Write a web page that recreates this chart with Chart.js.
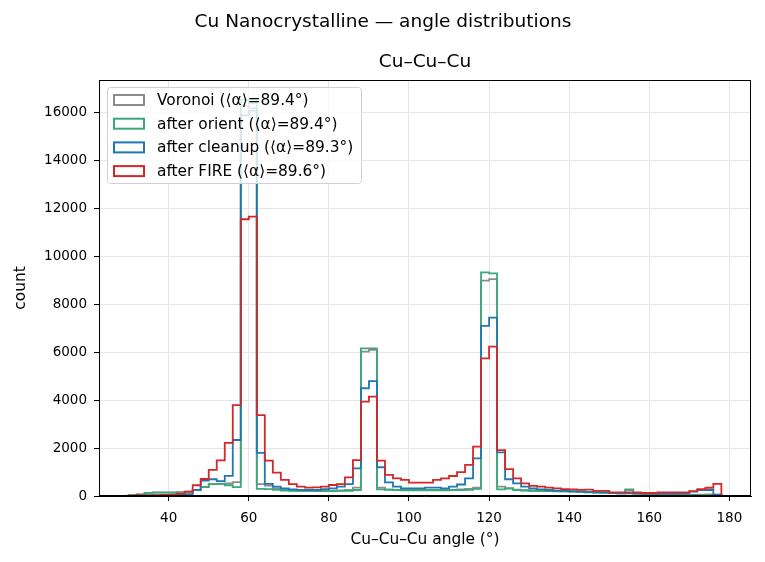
<!DOCTYPE html>
<html>
<head>
<meta charset="utf-8">
<script src="https://cdn.jsdelivr.net/npm/chart.js@4"></script>
<style>
  body { margin: 0; background: #fff; }
  #wrap { width: 765px; height: 562px; }
</style>
</head>
<body>
<div id="wrap"><canvas id="c" width="765" height="562"></canvas></div>
<script>
// histogram bins: 2 degree wide, 30..178
const binStart = 30;
const binWidth = 2;

const voronoi = [
  40, 80, 130, 150, 150, 150, 160, 180, 260, 380, 500, 510, 530, 580, 16300, 16200,
  500, 430, 320, 260, 240, 230, 220, 220, 210, 220, 230, 260, 350, 6030, 6100,
  350, 280, 260, 250, 250, 250, 250, 250, 250, 260, 280, 300, 350, 9000, 9060,
  390, 330, 270, 240, 230, 220, 210, 200, 190, 190, 180, 170, 150, 140, 130, 120,
  250, 100, 90, 80, 80, 70, 60, 60, 60, 60, 70, 70
];
const afterOrient = [
  20, 40, 130, 140, 140, 140, 150, 170, 250, 370, 500, 510, 450, 370, 16550, 16400,
  300, 290, 260, 230, 220, 220, 210, 210, 200, 200, 210, 220, 250, 6170, 6170,
  280, 260, 250, 240, 240, 240, 240, 240, 240, 250, 250, 260, 300, 9340, 9300,
  280, 310, 250, 230, 220, 210, 200, 190, 190, 180, 170, 150, 140, 130, 120, 110,
  280, 100, 90, 80, 80, 70, 60, 60, 50, 50, 50, 50
];
const afterCleanup = [
  5, 10, 20, 30, 40, 50, 60, 80, 255, 640, 700, 620, 840, 2340, 15900, 16100,
  1800, 510, 390, 320, 280, 250, 250, 250, 290, 320, 390, 500, 1150, 4500, 4800,
  1200, 570, 390, 320, 320, 320, 350, 350, 320, 390, 480, 740, 1570, 7110, 7450,
  1820, 700, 530, 390, 320, 280, 250, 220, 210, 195, 180, 160, 150, 150, 120, 110,
  110, 110, 100, 100, 100, 100, 100, 110, 180, 250, 250, 50
];
const afterFire = [
  10, 20, 30, 40, 50, 60, 100, 180, 450, 710, 1090, 1490, 2220, 3800, 11560, 11670,
  3380, 1480, 975, 670, 500, 390, 350, 360, 390, 460, 500, 780, 1500, 3940, 4150,
  1480, 880, 740, 670, 560, 560, 560, 670, 740, 835, 1000, 1300, 2060, 5750, 6240,
  1920, 1120, 740, 530, 420, 390, 350, 320, 290, 280, 260, 270, 210, 210, 155, 155,
  155, 155, 125, 125, 155, 155, 155, 155, 200, 290, 345, 510
];

const seriesNames = [
  "Voronoi (⟨α⟩=89.4°)",
  "after orient (⟨α⟩=89.4°)",
  "after cleanup (⟨α⟩=89.3°)",
  "after FIRE (⟨α⟩=89.6°)"
];
const seriesColors = ["#8c8c8c", "#3aa87a", "#1f77b4", "#d62728"];

const xTicks = [40, 60, 80, 100, 120, 140, 160, 180];
const yTicks = [0, 2000, 4000, 6000, 8000, 10000, 12000, 14000, 16000];

const FONT = "'DejaVu Sans', sans-serif";

// matplotlib-like step outline: up at first edge, down at last edge
function stepPoints(counts) {
  const pts = [{ x: binStart, y: 0 }];
  counts.forEach((c, i) => pts.push({ x: binStart + i * binWidth, y: c }));
  const end = binStart + counts.length * binWidth;
  pts.push({ x: end, y: counts[counts.length - 1] });
  pts.push({ x: end, y: 0 });
  return pts;
}

const allCounts = [voronoi, afterOrient, afterCleanup, afterFire];
const xMinData = binStart;
const xMaxData = binStart + voronoi.length * binWidth;
const xPad = (xMaxData - xMinData) * 0.05;
const yMax = Math.max(...allCounts.map((a) => Math.max(...a))) * 1.05;

const datasets = allCounts.map((counts, i) => ({
  label: seriesNames[i],
  data: stepPoints(counts),
  borderColor: seriesColors[i],
  borderWidth: 1.8,
  stepped: "before",
  pointRadius: 0,
  fill: false,
  order: 4 - i,
}));

const textPlugin = {
  id: "texts",
  afterDraw(chart) {
    const ctx = chart.ctx;
    const a = chart.chartArea;
    ctx.save();
    // frame (all four spines)
    ctx.strokeStyle = "#000";
    ctx.lineWidth = 1;
    ctx.strokeRect(a.left + 0.5, a.top + 0.5, a.right - a.left - 1, a.bottom - a.top - 1);

    ctx.fillStyle = "#000";
    ctx.textAlign = "center";
    ctx.textBaseline = "middle";
    ctx.font = "18.5px " + FONT;
    ctx.fillText("Cu Nanocrystalline — angle distributions", 383, 22);
    ctx.fillText("Cu–Cu–Cu", (a.left + a.right) / 2, 62);
    ctx.font = "15.4px " + FONT;
    ctx.fillText("Cu–Cu–Cu angle (°)", (a.left + a.right) / 2, 540);
    ctx.translate(21, (a.top + a.bottom) / 2);
    ctx.rotate(-Math.PI / 2);
    ctx.fillText("count", 0, 0);
    ctx.restore();

    // legend
    ctx.save();
    const lx = a.left + 8, ly = a.top + 7, lw = 254, lh = 96;
    ctx.beginPath();
    ctx.roundRect(lx + 0.5, ly + 0.5, lw, lh, 3);
    ctx.fillStyle = "rgba(255,255,255,0.8)";
    ctx.fill();
    ctx.strokeStyle = "#d0d0d0";
    ctx.lineWidth = 1;
    ctx.stroke();
    ctx.font = "15.4px " + FONT;
    ctx.textAlign = "left";
    ctx.textBaseline = "middle";
    seriesNames.forEach((name, i) => {
      const cy = ly + 13 + i * 23.7;
      ctx.strokeStyle = seriesColors[i];
      ctx.lineWidth = 2;
      ctx.strokeRect(lx + 7, cy - 5, 30, 10);
      ctx.fillStyle = "#000";
      ctx.fillText(name, lx + 50, cy + 1);
    });
    ctx.restore();
  },
};

new Chart(document.getElementById("c"), {
  type: "line",
  data: { datasets },
  plugins: [textPlugin],
  options: {
    responsive: false,
    animation: false,
    layout: { padding: { left: 0, top: 80, right: 14, bottom: 0 } },
    plugins: { legend: { display: false }, tooltip: { enabled: false } },
    scales: {
      x: {
        type: "linear",
        min: xMinData - xPad,
        max: xMaxData + xPad,
        afterBuildTicks: (s) => { s.ticks = xTicks.map((v) => ({ value: v })); },
        afterFit: (s) => { s.height = 66; },
        ticks: { color: "#000", font: { family: FONT, size: 13.5 }, padding: 9, maxRotation: 0,
                 callback: (v) => String(v) },
        grid: { color: "#e6e6e6", tickColor: "#000", tickLength: 5, drawTicks: true },
        border: { color: "#000" },
      },
      y: {
        min: 0,
        max: yMax,
        afterBuildTicks: (s) => { s.ticks = yTicks.map((v) => ({ value: v })); },
        afterFit: (s) => { s.width = 99; },
        ticks: { color: "#000", font: { family: FONT, size: 13.5 }, padding: 7,
                 callback: (v) => String(v) },
        grid: { color: "#e6e6e6", tickColor: "#000", tickLength: 5, drawTicks: true },
        border: { color: "#000" },
      },
    },
  },
});
</script>
</body>
</html>
